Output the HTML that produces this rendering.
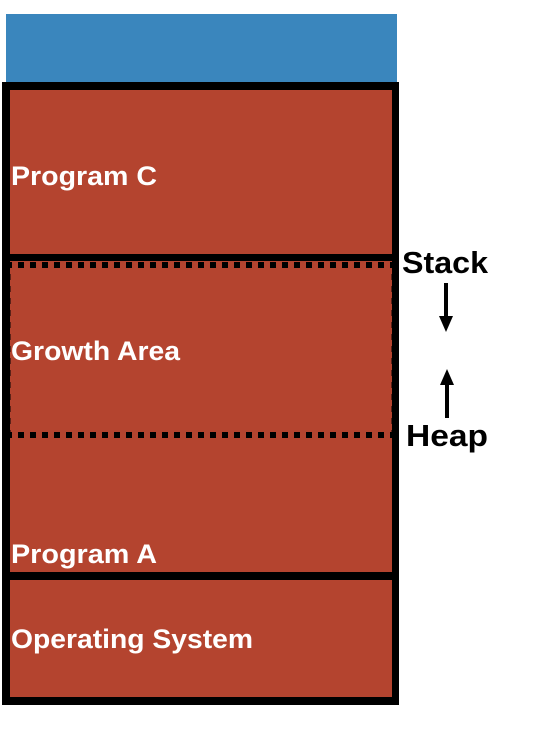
<!DOCTYPE html>
<html><head><style>
body{margin:0;width:558px;height:728px;background:#fff;overflow:hidden;font-family:"Liberation Sans",sans-serif}
</style></head><body>
<svg width="558" height="728" xmlns="http://www.w3.org/2000/svg">
<rect x="6" y="14" width="391" height="70" fill="#3a86bd"/>
<rect x="2" y="82" width="397" height="623" fill="#000"/>
<rect x="10" y="90" width="382" height="164" fill="#b4442f"/>
<rect x="10" y="261" width="382" height="311" fill="#b4442f"/>
<rect x="10" y="580" width="382" height="117" fill="#b4442f"/>
<line x1="6" y1="265" x2="394" y2="265" stroke="#000" stroke-width="6" stroke-dasharray="6,6"/>
<line x1="6" y1="435" x2="394" y2="435" stroke="#000" stroke-width="6" stroke-dasharray="6,6"/>
<line x1="8" y1="262" x2="8" y2="435" stroke="#000" stroke-width="5" stroke-dasharray="6,6"/>
<line x1="394" y1="262" x2="394" y2="435" stroke="#000" stroke-width="5" stroke-dasharray="6,6"/>
<g fill="#fff" font-weight="bold" font-size="27" font-family="Liberation Sans, sans-serif">
<text x="11" y="185" textLength="146" lengthAdjust="spacingAndGlyphs">Program C</text>
<text x="11" y="360" textLength="169" lengthAdjust="spacingAndGlyphs">Growth Area</text>
<text x="11" y="563" textLength="146" lengthAdjust="spacingAndGlyphs">Program A</text>
<text x="11" y="648" textLength="242" lengthAdjust="spacingAndGlyphs">Operating System</text>
</g>
<g fill="#000" font-weight="bold" font-size="31" font-family="Liberation Sans, sans-serif">
<text x="402" y="273" textLength="86" lengthAdjust="spacingAndGlyphs">Stack</text>
<text x="406" y="446" textLength="82" lengthAdjust="spacingAndGlyphs">Heap</text>
</g>
<line x1="446" y1="283" x2="446" y2="318" stroke="#000" stroke-width="4"/>
<polygon points="439,316 453,316 446,332" fill="#000"/>
<line x1="447" y1="382" x2="447" y2="418" stroke="#000" stroke-width="4"/>
<polygon points="440,385 454,385 447,369" fill="#000"/>
</svg>
</body></html>
